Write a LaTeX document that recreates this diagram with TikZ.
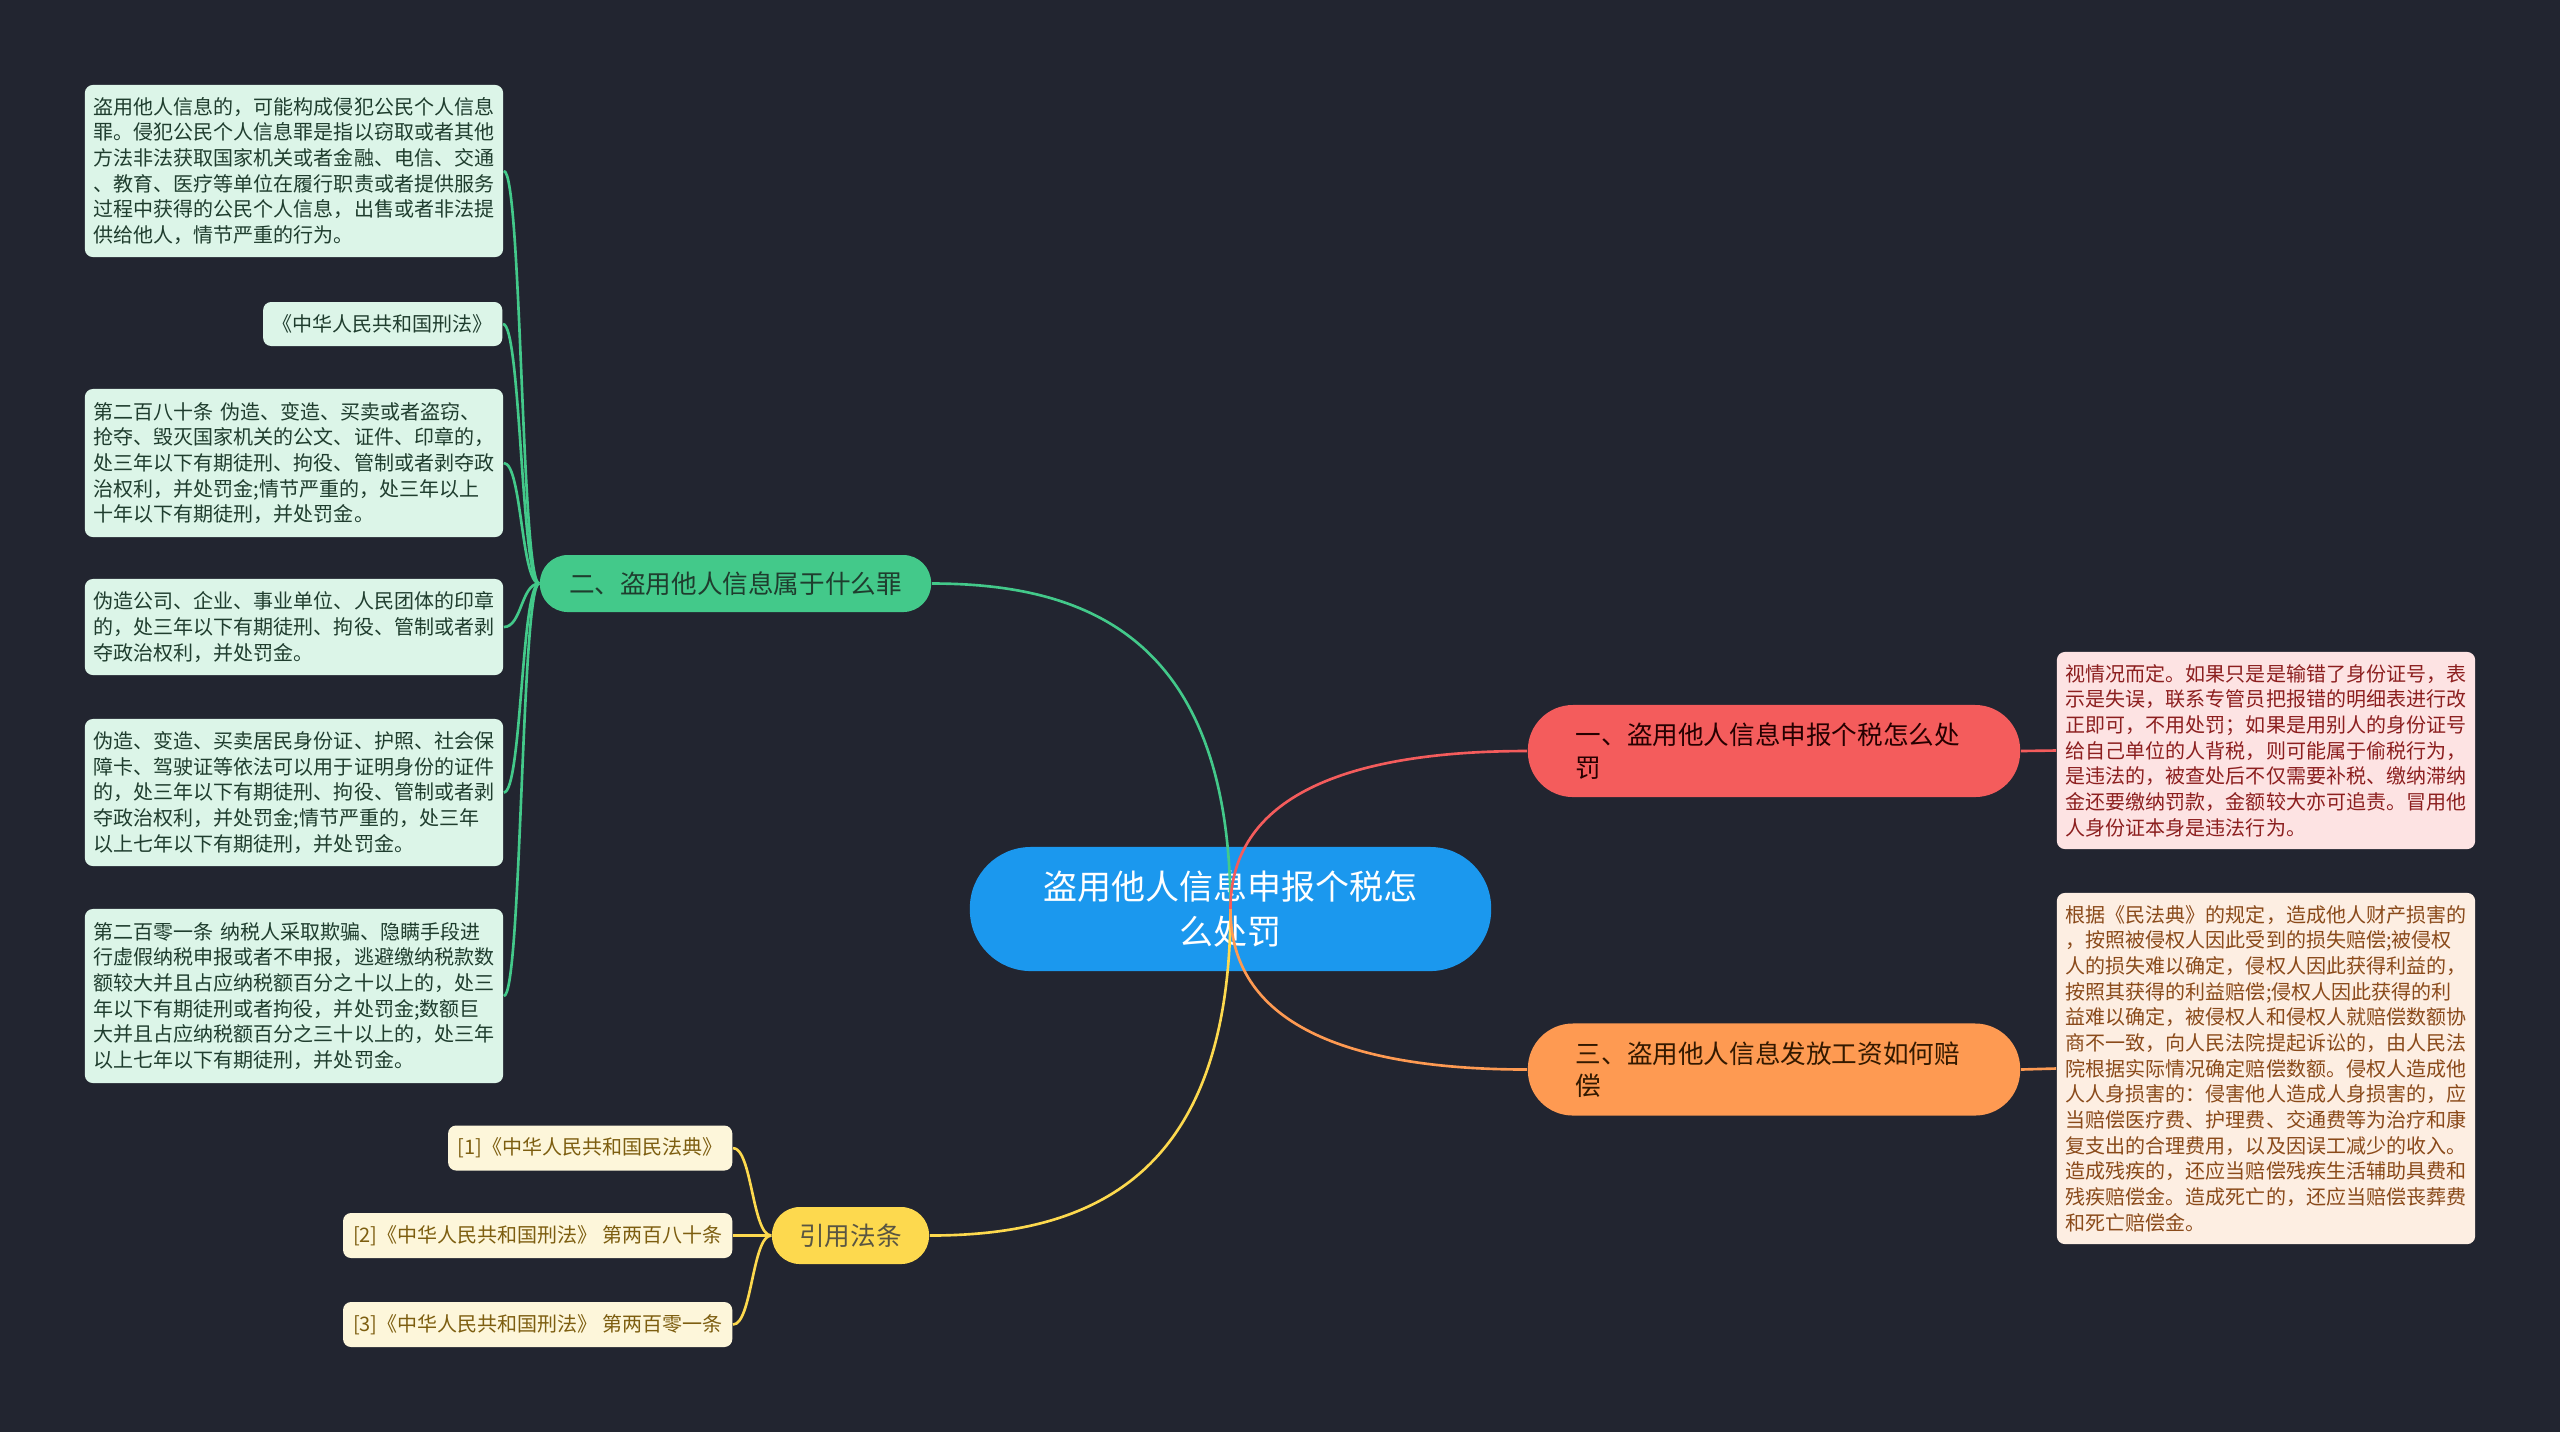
\documentclass[tikz,border=0pt]{standalone}
\usepackage{fontspec}
\setmainfont{Noto Sans CJK SC}

\definecolor{bgc}{HTML}{222530}
\definecolor{rootc}{HTML}{1B98EE}
\definecolor{redc}{HTML}{F45C5C}
\definecolor{orangec}{HTML}{FE9A52}
\definecolor{greenc}{HTML}{43C98A}
\definecolor{yellowc}{HTML}{FDD94E}
\definecolor{gleaf}{HTML}{DCF5E8}
\definecolor{gtext}{HTML}{1F3D2E}
\definecolor{yleaf}{HTML}{FDF6DA}
\definecolor{ytext}{HTML}{7D5E10}
\definecolor{rleaf}{HTML}{FDE3E3}
\definecolor{rtext}{HTML}{8C1F1F}
\definecolor{oleaf}{HTML}{FDEEE2}
\definecolor{otext}{HTML}{8A4A1A}

\tikzset{%
  root/.style={fill=rootc, text=white, rounded corners=0.61cm,
               minimum width=5.21cm, minimum height=1.24cm, align=center,
               font=\fontsize{9.67pt}{13pt}\selectfont},
  branch/.style={rounded corners=0.28cm, minimum height=0.57cm, inner xsep=0.2cm,
                 font=\fontsize{7.28pt}{9.3pt}\selectfont},
  bigbranch/.style={rounded corners=0.45cm, minimum height=0.92cm, inner xsep=0.48cm,
                    text width=3.96cm, align=left,
                    font=\fontsize{7.28pt}{9.3pt}\selectfont},
  leaf/.style={rounded corners=0.08cm, inner xsep=0.09cm, inner ysep=0pt, align=left,
               font=\fontsize{5.69pt}{7.3pt}\selectfont},
  longleaf/.style={leaf, text width=4.0cm},
  leafg/.style={leaf, fill=gleaf, text=gtext},
  leafy/.style={leaf, fill=yleaf, text=ytext, minimum height=0.45cm},
  link/.style={line width=0.75pt},
}

\begin{document}
\begin{tikzpicture}[x=0.01cm, y=-0.01cm]

% background
\fill[bgc] (0,0) rectangle (2560,1432);
\useasboundingbox (0,0) rectangle (2560,1432);

% root and main branches
\node[root] (root) at (1230.5,909) {盗用他人信息申报个税怎\\么处罚};
\node[bigbranch, fill=redc, text=black!85!red] (b1) at (1774,751) {一、盗用他人信息申报个税怎么处\\罚};
\node[branch, fill=greenc, text=gtext, minimum width=3.91cm] (b2) at (735.5,583.5) {二、盗用他人信息属于什么罪};
\node[bigbranch, fill=orangec, text=black!80!orange] (b3) at (1774,1069.5) {三、盗用他人信息发放工资如何赔\\偿};
\node[branch, fill=yellowc, text=black!75!yellow, minimum width=1.57cm] (b4) at (850.5,1235.5) {引用法条};

% leaves of branch two
\node[leafg, longleaf, minimum height=1.72cm] (g1) at (294,171) {盗用他人信息的，可能构成侵犯公民个人信息\\罪。侵犯公民个人信息罪是指以窃取或者其他\\方法非法获取国家机关或者金融、电信、交通\\、教育、医疗等单位在履行职责或者提供服务\\过程中获得的公民个人信息，出售或者非法提\\供给他人，情节严重的行为。};
\node[leafg, minimum height=0.44cm, minimum width=2.39cm, anchor=east] (g2) at (503,324) {《中华人民共和国刑法》};
\node[leafg, longleaf, minimum height=1.48cm] (g3) at (294,463) {第二百八十条 伪造、变造、买卖或者盗窃、\\抢夺、毁灭国家机关的公文、证件、印章的，\\处三年以下有期徒刑、拘役、管制或者剥夺政\\治权利，并处罚金;情节严重的，处三年以上\\十年以下有期徒刑，并处罚金。};
\node[leafg, longleaf, minimum height=0.96cm] (g4) at (294,627) {伪造公司、企业、事业单位、人民团体的印章\\的，处三年以下有期徒刑、拘役、管制或者剥\\夺政治权利，并处罚金。};
\node[leafg, longleaf, minimum height=1.47cm] (g5) at (294,792.5) {伪造、变造、买卖居民身份证、护照、社会保\\障卡、驾驶证等依法可以用于证明身份的证件\\的，处三年以下有期徒刑、拘役、管制或者剥\\夺政治权利，并处罚金;情节严重的，处三年\\以上七年以下有期徒刑，并处罚金。};
\node[leafg, longleaf, minimum height=1.74cm] (g6) at (294,996) {第二百零一条 纳税人采取欺骗、隐瞒手段进\\行虚假纳税申报或者不申报，逃避缴纳税款数\\额较大并且占应纳税额百分之十以上的，处三\\年以下有期徒刑或者拘役，并处罚金;数额巨\\大并且占应纳税额百分之三十以上的，处三年\\以上七年以下有期徒刑，并处罚金。};

% cited laws
\node[leafy, minimum width=2.84cm, anchor=east] (y1) at (733,1148) {[1]《中华人民共和国民法典》};
\node[leafy, minimum width=3.89cm, anchor=east] (y2) at (733,1235.5) {[2]《中华人民共和国刑法》 第两百八十条};
\node[leafy, minimum width=3.89cm, anchor=east] (y3) at (733,1324.5) {[3]《中华人民共和国刑法》 第两百零一条};

% leaves on the right
\node[longleaf, fill=rleaf, text=rtext, minimum height=1.97cm] (r1) at (2266,750.5) {视情况而定。如果只是是输错了身份证号，表\\示是失误，联系专管员把报错的明细表进行改\\正即可，不用处罚；如果是用别人的身份证号\\给自己单位的人背税，则可能属于偷税行为，\\是违法的，被查处后不仅需要补税、缴纳滞纳\\金还要缴纳罚款，金额较大亦可追责。冒用他\\人身份证本身是违法行为。};
\node[longleaf, fill=oleaf, text=otext, minimum height=3.51cm] (r3) at (2266,1068.5) {根据《民法典》的规定，造成他人财产损害的\\，按照被侵权人因此受到的损失赔偿;被侵权\\人的损失难以确定，侵权人因此获得利益的，\\按照其获得的利益赔偿;侵权人因此获得的利\\益难以确定，被侵权人和侵权人就赔偿数额协\\商不一致，向人民法院提起诉讼的，由人民法\\院根据实际情况确定赔偿数额。侵权人造成他\\人人身损害的：侵害他人造成人身损害的，应\\当赔偿医疗费、护理费、交通费等为治疗和康\\复支出的合理费用，以及因误工减少的收入。\\造成残疾的，还应当赔偿残疾生活辅助具费和\\残疾赔偿金。造成死亡的，还应当赔偿丧葬费\\和死亡赔偿金。};

% connect root to branches
\draw[link, greenc] (root.center) .. controls (1230,640) and (1090,583.5) .. (b2.east);
\draw[link, yellowc] (root.center) .. controls (1230,1178) and (1090,1235.5) .. (b4.east);
\draw[link, redc] (root.center) .. controls (1230,790) and (1360,751) .. (b1.west);
\draw[link, orangec] (root.center) .. controls (1230,1030) and (1360,1069.5) .. (b3.west);

% connect branches to leaves
\foreach \n in {g1,g2,g3,g4,g5,g6}
  \draw[link, greenc] (b2.west) .. controls +(-18,0) and +(18,0) .. (\n.east);
\foreach \n in {y1,y2,y3}
  \draw[link, yellowc] (b4.west) .. controls +(-19,0) and +(19,0) .. (\n.east);
\draw[link, redc] (b1.east) -- (r1.west);
\draw[link, orangec] (b3.east) -- (r3.west);

\end{tikzpicture}
\end{document}
